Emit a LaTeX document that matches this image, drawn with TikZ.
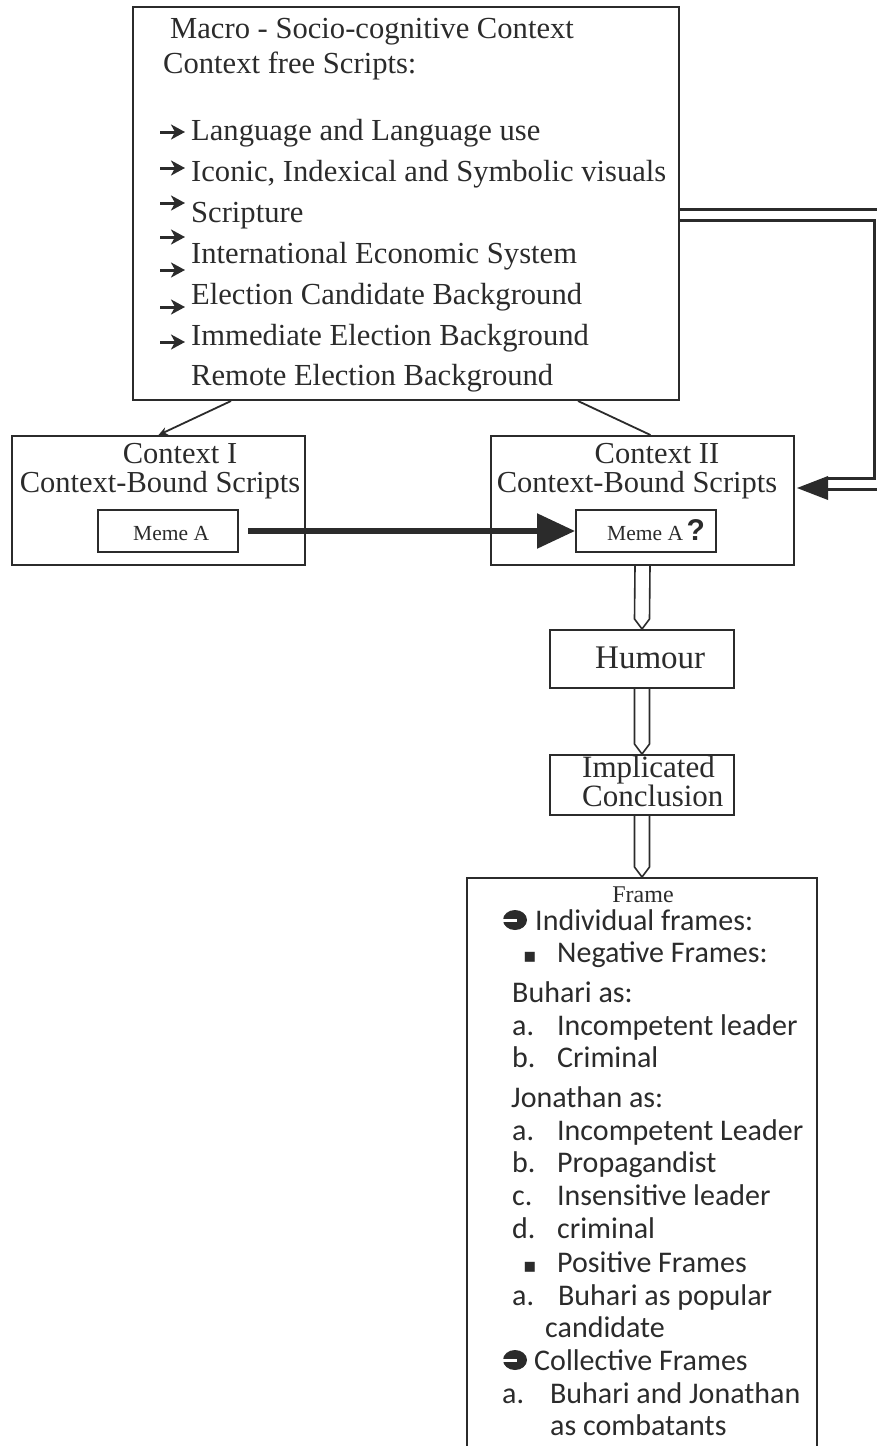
\documentclass[tikz,border=0pt]{standalone}
\usepackage{fontspec}
\setmainfont{Liberation Serif}
\newfontfamily\calfont{Carlito}
\newfontfamily\symfont{DejaVu Sans}
\newfontfamily\qfont{Liberation Sans}
\usetikzlibrary{arrows.meta,calc}
\definecolor{ink}{HTML}{2B2B2B}
\begin{document}
\begin{tikzpicture}[x=1pt,y=-1pt,
  box/.style={draw=ink,line width=2pt,inner sep=0pt},
  tx/.style={inner sep=0pt,text=ink,font=\fontsize{30.6}{36}\selectfont},
  ctx/.style={inner sep=0pt,text=ink,font=\fontsize{30.5}{36}\selectfont,anchor=base},
  mm/.style={inner sep=0pt,text=ink,font=\fontsize{21.5}{26}\selectfont,anchor=base west},
  ft/.style={inner sep=0pt,text=ink,font=\calfont\fontsize{30}{33}\selectfont,anchor=base west},
  sym/.style={inner sep=0pt,text=ink,font=\symfont\fontsize{20}{22}\selectfont,anchor=base west},
  bul/.style={draw=ink,line width=3pt,-{Stealth[length=14pt,width=15pt,inset=4pt]}},
  conn/.style={draw=ink,line width=1.8pt},
  hollow/.style={draw=ink,line width=1.6pt,fill=white,line join=miter},
  dbl/.style={draw=ink,double=white,double distance=8pt,line width=3pt,line join=miter}
]
\useasboundingbox (0,0) rectangle (877,1446);

% ---------- boxes ----------
\node[box,minimum width=546pt,minimum height=393pt] (macro) at (406,203.5) {};
\node[box,minimum width=293pt,minimum height=129pt] (ctx1) at (158.5,500.5) {};
\node[box,minimum width=140pt,minimum height=42pt] (memeA) at (168,531) {};
\node[box,minimum width=303pt,minimum height=129pt] (ctx2) at (642.5,500.5) {};
\node[box,minimum width=140pt,minimum height=42pt] (memeB) at (646,531) {};
\node[box,minimum width=184pt,minimum height=58pt] (humour) at (642,659) {};
\node[box,minimum width=184pt,minimum height=60pt] (impl) at (642,785) {};
\node[box,minimum width=350pt,minimum height=576pt] (frame) at (642,1166) {};

% ---------- macro box text ----------
\node[tx,anchor=base west] (m1) at (170,38) {Macro - Socio-cognitive Context};
\node[tx,anchor=base west] (m2) at (163,73) {Context free Scripts:};
\node[tx,anchor=base west] (i1) at (191,140) {Language and Language use};
\node[tx,anchor=base west] (i2) at (191,181) {Iconic, Indexical and Symbolic visuals};
\node[tx,anchor=base west] (i3) at (191,222) {Scripture};
\node[tx,anchor=base west] (i4) at (191,263) {International Economic System};
\node[tx,anchor=base west] (i5) at (191,304) {Election Candidate Background};
\node[tx,anchor=base west] (i6) at (191,345) {Immediate Election Background};
\node[tx,anchor=base west] (i7) at (191,385) {Remote Election Background};
\foreach \yy in {132,168,203,237,270,307,342}{
  \draw[bul] (160,\yy) -- (185,\yy);
}

% ---------- context texts ----------
\node[ctx] (c1a) at (180,463) {Context I};
\node[ctx] (c1b) at (160,492) {Context-Bound Scripts};
\node[ctx] (c2a) at (657,463) {Context II};
\node[ctx] (c2b) at (637,492) {Context-Bound Scripts};
\node[mm] (mA) at (133,540) {Meme A};
\node[mm] (mB) at (607,540) {Meme A\,{\qfont\bfseries\fontsize{30}{30}\selectfont ?}};

\node[tx,anchor=base west,font=\fontsize{33}{36}\selectfont] (hum) at (595,668) {Humour};
\node[tx,anchor=west,align=left,font=\fontsize{31}{29}\selectfont] (imp) at (582,781) {Implicated\\Conclusion};

% ---------- frame text ----------
\node[tx,anchor=base,font=\fontsize{24}{26}\selectfont] (fr) at (643,902) {Frame};
\node[ft] (f1) at (535,930) {Individual frames:};
\node[sym] (s2) at (523,962) {▪};
\node[ft] (f2) at (557,962) {Negative Frames:};
\node[ft] (f3) at (512,1002) {Buhari as:};
\node[ft] (f4) at (512,1035) {\makebox[45pt][l]{a.}Incompetent leader};
\node[ft] (f5) at (512,1067) {\makebox[45pt][l]{b.}Criminal};
\node[ft] (f6) at (511,1107) {Jonathan as:};
\node[ft] (f7) at (512,1140) {\makebox[45pt][l]{a.}Incompetent Leader};
\node[ft] (f8) at (512,1172) {\makebox[45pt][l]{b.}Propagandist};
\node[ft] (f9) at (512,1205) {\makebox[45pt][l]{c.}Insensitive leader};
\node[ft] (f10) at (512,1238) {\makebox[45pt][l]{d.}criminal};
\node[sym] (s3) at (523,1272) {▪};
\node[ft] (f11) at (557,1272) {Positive Frames};
\node[ft] (f12) at (512,1305) {\makebox[46pt][l]{a.}Buhari as popular};
\node[ft] (f13) at (545,1337) {candidate};
\node[ft] (f14) at (534,1370) {Collective Frames};
\node[ft] (f15) at (502,1403) {\makebox[48pt][l]{a.}Buhari and Jonathan};
\node[ft] (f16) at (550,1435) {as combatants};

% round arrow bullets
\foreach \cy in {920,1360}{
  \fill[ink] (515,\cy) ellipse (12 and 10);
  \draw[white,line width=3pt] (502,\cy) -- (517,\cy);
}

% ---------- connectors ----------
\draw[conn,-{Stealth[length=9pt,width=8pt]}] ($(macro.south west)+(99,0)$) -- (ctx1.north);
\draw[conn] ($(macro.south west)+(446,0)$) -- ($(ctx2.north)+(8,0)$);

\draw[ink,line width=5.5pt,-{Triangle[length=38pt,width=34pt]}] ($(memeA.east)+(9,0)$) -- (memeB.west);

% double connector
\coordinate (dA) at ($(macro.east)+(0,11)$);
\coordinate (dB) at (880,214.5);
\coordinate (dC) at (880,483.5);
\coordinate (dD) at ($(ctx2.east)+(33,-17)$);
\draw[dbl] (dA) -- (dB) -- (dC) -- (dD);
\fill[ink] ($(ctx2.east)+(2,-12.5)$) -- ($(ctx2.east)+(33,-24.5)$) -- ($(ctx2.east)+(33,-0.5)$) -- cycle;

% hollow block arrows
\newcommand\hollowdown[2]{%
  \draw[hollow] ($(#1.south)+(-7.5,0)$) -- ($(#2.north)+(-7.5,-10)$) -- (#2.north)
     -- ($(#2.north)+(7.5,-10)$) -- ($(#1.south)+(7.5,0)$);}
\hollowdown{ctx2}{humour}
\hollowdown{humour}{impl}
\hollowdown{impl}{frame}
\end{tikzpicture}
\end{document}
